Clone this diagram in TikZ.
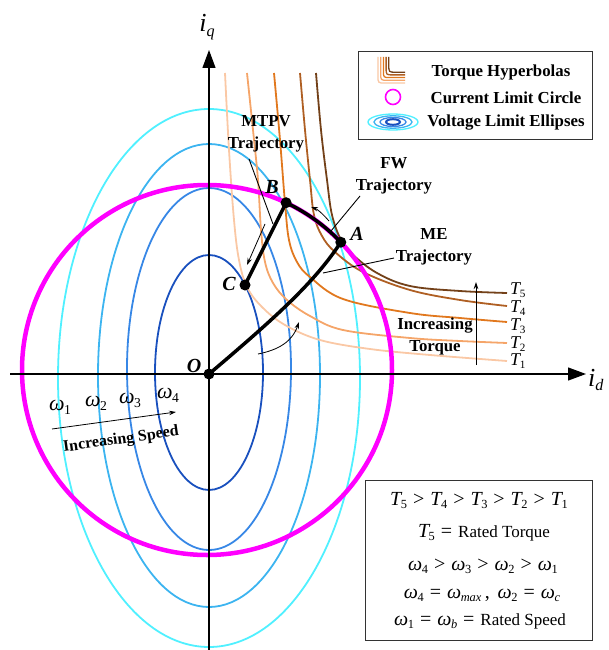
\documentclass[tikz,border=0pt]{standalone}
\usepackage{fontspec}
\setmainfont{Liberation Serif}
\usetikzlibrary{arrows.meta}
\definecolor{tA}{RGB}{250,200,165}
\definecolor{tB}{RGB}{245,165,105}
\definecolor{tC}{RGB}{225,120,30}
\definecolor{tD}{RGB}{175,95,35}
\definecolor{tE}{RGB}{115,65,25}
\definecolor{eA}{RGB}{80,240,255}
\definecolor{eB}{RGB}{60,180,240}
\definecolor{eC}{RGB}{55,135,230}
\definecolor{eD}{RGB}{25,80,190}
\definecolor{mag}{RGB}{255,0,255}
\newcommand{\sub}[1]{\raisebox{-0.4ex}{\scalebox{0.62}{#1}}}
\newcommand{\Tn}[1]{\textit{T}\kern-0.08em\sub{#1}}
\newcommand{\wn}[1]{\textit{ω}\kern-0.02em\sub{#1}}
\newcommand{\rel}[1]{\hspace{0.3em}#1\hspace{0.3em}}
\begin{document}
\begin{tikzpicture}[x=1pt,y=-1pt,
  hyp/.style={line width=1.8pt},
  ell/.style={line width=1.8pt},
  traj/.style={line width=3.5pt},
  lead/.style={line width=0.9pt},
  smallarrow/.style={line width=0.8pt,-{Stealth[length=7pt,width=4.5pt]}},
  axis/.style={line width=1.2pt,-{Triangle[length=18pt,width=13pt]}},
  lbl/.style={font=\fontsize{16.8}{22}\selectfont\bfseries, align=center, inner sep=0pt},
  dot/.style={circle, fill=black, inner sep=0pt, minimum size=11pt},
  ptl/.style={font=\fontsize{20}{22}\selectfont\bfseries\itshape, inner sep=0pt},
  wl/.style={font=\fontsize{22}{24}\selectfont, inner sep=0pt, anchor=base},
  tl/.style={font=\fontsize{18}{20}\selectfont, inner sep=0pt, anchor=base west},
  boxt/.style={font=\fontsize{20}{22}\selectfont, inner sep=0pt, anchor=base},
]
\useasboundingbox (0,0) rectangle (609,650);

% voltage limit ellipses
\draw[ell, eA] (209,378) ellipse[x radius=151, y radius=269];
\draw[ell, eB] (209,375.5) ellipse[x radius=111, y radius=231.5];
\draw[ell, eC] (209,369) ellipse[x radius=82, y radius=181];
\draw[ell, eD] (209,372.5) ellipse[x radius=54, y radius=117.5];

% torque hyperbolas
\draw[hyp,tA] plot[smooth, tension=0.6] coordinates {(225,73) (229,150) (234,220) (239,260) (247,287) (262,307) (285,325) (320,340) (370,349) (430,355) (507,361)};
\draw[hyp,tB] plot[smooth, tension=0.6] coordinates {(247,73) (253,130) (258,180) (261,230) (265,262) (273,283) (287,300) (310,316) (343,330) (410,338) (460,341) (507,343)};
\draw[hyp,tC] plot[smooth, tension=0.6] coordinates {(274,73) (280,140) (285,203) (289,240) (297,262) (310,277) (343,299) (410,313) (460,318) (507,322)};
\draw[hyp,tD] plot[smooth, tension=0.6] coordinates {(300,73) (305,130) (310,180) (314,215) (322,236) (335,252) (363,272) (410,290) (460,300) (507,306)};
\draw[hyp,tE] plot[smooth, tension=0.6] coordinates {(316,73) (321,130) (327,180) (332,215) (341,240) (352,254) (377,273) (410,286) (460,291) (507,293)};

% current limit circle
\draw[line width=4.5pt, mag] (207,370) circle[radius=185];

% axes
\coordinate (xs) at (10,374);
\coordinate (xe) at (586,374);
\coordinate (ys) at (209,650);
\coordinate (ye) at (209,50);
\draw[axis] (xs) -- (xe);
\draw[axis] (ys) -- (ye);
\node[font=\fontsize{26}{28}\selectfont, inner sep=0pt] (iq) at (207,27) {\textit{i}\sub{\textit{q}}};
\node[font=\fontsize{26}{28}\selectfont, inner sep=0pt, anchor=west] (id) at (588,380) {\textit{i}\sub{\textit{d}}};

% trajectories
\coordinate (O) at (209,374);
\coordinate (C) at (245,285);
\coordinate (B) at (286.1,202.7);
\coordinate (A) at (340.8,242.2);
\draw[traj] (O) .. controls (275,318) and (315,282) .. (A);
\draw[traj] (C) -- (B);
\draw[traj] (B) arc[start angle=-64.7, end angle=-43.7, radius=185];
\node[dot] (Od) at (O) {};
\node[dot] (Cd) at (C) {};
\node[dot] (Bd) at (B) {};
\node[dot] (Ad) at (A) {};
\node[ptl] (Ol) at (194,366) {O};
\node[ptl] (Cl) at (229,284) {C};
\node[ptl] (Bl) at (272,187) {B};
\node[ptl] (Al) at (357,234) {A};

% direction arrows
\coordinate (a1s) at (329,221); \coordinate (a1e) at (311,207);
\draw[smallarrow] (a1s) .. controls (322,213) and (317,209) .. (a1e);
\coordinate (a2s) at (265,224); \coordinate (a2e) at (247,265);
\draw[smallarrow] (a2s) -- (a2e);
\coordinate (a3s) at (258,354); \coordinate (a3e) at (299,322);
\draw[smallarrow] (a3s) .. controls (278,350) and (292,342) .. (a3e);

% trajectory labels
\node[lbl] (mtpv) at (266,134) {MTPV\\Trajectory};
\coordinate (m1) at (249,159); \coordinate (m2) at (273,224);
\draw[lead] (m1) -- (m2);
\node[lbl] (fw) at (394,176) {FW\\Trajectory};
\coordinate (f1) at (360,196); \coordinate (f2) at (331,231);
\draw[lead] (f1) -- (f2);
\node[lbl] (me) at (434,247) {ME\\Trajectory};
\coordinate (e1) at (394,258); \coordinate (e2) at (323,273);
\draw[lead] (e1) -- (e2);

% torque labels
\node[tl] (T5) at (510,294) {\Tn{5}};
\node[tl] (T4) at (510,312) {\Tn{4}};
\node[tl] (T3) at (510,330) {\Tn{3}};
\node[tl] (T2) at (510,348) {\Tn{2}};
\node[tl] (T1) at (510,365) {\Tn{1}};
\node[lbl] (inct) at (435,336) {Increasing\\Torque};
\coordinate (v1) at (476,365); \coordinate (v2) at (476,282);
\draw[smallarrow] (v1) -- (v2);

% speed labels
\node[wl] (w1) at (60,410) {\wn{1}};
\node[wl] (w2) at (96,406) {\wn{2}};
\node[wl] (w3) at (130,403) {\wn{3}};
\node[wl] (w4) at (168,398) {\wn{4}};
\coordinate (s1) at (52,429); \coordinate (s2) at (176,412);
\draw[smallarrow] (s1) -- (s2);
\node[font=\fontsize{16}{18}\selectfont\bfseries, inner sep=0pt, rotate=8] (incs) at (121,440) {Increasing Speed};

% legend
\draw[line width=1pt, draw=black!80, fill=white] (358,52) rectangle (592,139);
\foreach \c [count=\i from 0] in {tA,tB,tC,tD,tE} {
  \draw[\c, line width=1.3pt] ({378+2.7*\i},57) -- ({378+2.7*\i},{76-2.7*\i})
     .. controls ({378+2.7*\i},{83-2.7*\i}) .. ({385+2.7*\i},{83-2.7*\i}) -- (405,{83-2.7*\i});
}
\draw[mag, line width=1.6pt] (393,97) circle[radius=7.5];
\draw[eA, line width=1.3pt] (393,122) ellipse[x radius=25, y radius=8];
\draw[eB, line width=1.3pt] (393,122) ellipse[x radius=19, y radius=6.2];
\draw[eC, line width=1.3pt] (393,122) ellipse[x radius=13, y radius=4.5];
\draw[eD, line width=2pt] (393,122) ellipse[x radius=7, y radius=2.8];
\node[lbl, anchor=base] (lg1) at (501,77) {Torque Hyperbolas};
\node[lbl, anchor=base] (lg2) at (506,103) {Current Limit Circle};
\node[lbl, anchor=base] (lg3) at (506,127) {Voltage Limit Ellipses};

% info box
\draw[line width=1pt, draw=black!80, fill=white] (365,480) rectangle (592,640);
\node[boxt] (b1) at (479,505) {\Tn{5}\rel{>}\Tn{4}\rel{>}\Tn{3}\rel{>}\Tn{2}\rel{>}\Tn{1}};
\node[boxt] (b2) at (484,537) {\Tn{5}\rel{=}{\fontsize{17}{19}\selectfont Rated Torque}};
\node[boxt] (b3) at (483,570) {\wn{4}\rel{>}\wn{3}\rel{>}\wn{2}\rel{>}\wn{1}};
\node[boxt] (b4) at (482,598) {\wn{4}\rel{=}\wn{\textit{max}}\,,\hspace{0.4em}\wn{2}\rel{=}\wn{\textit{c}}};
\node[boxt] (b5) at (480,625) {\wn{1}\rel{=}\wn{\textit{b}}\rel{=}{\fontsize{17}{19}\selectfont Rated Speed}};
\end{tikzpicture}
\end{document}
